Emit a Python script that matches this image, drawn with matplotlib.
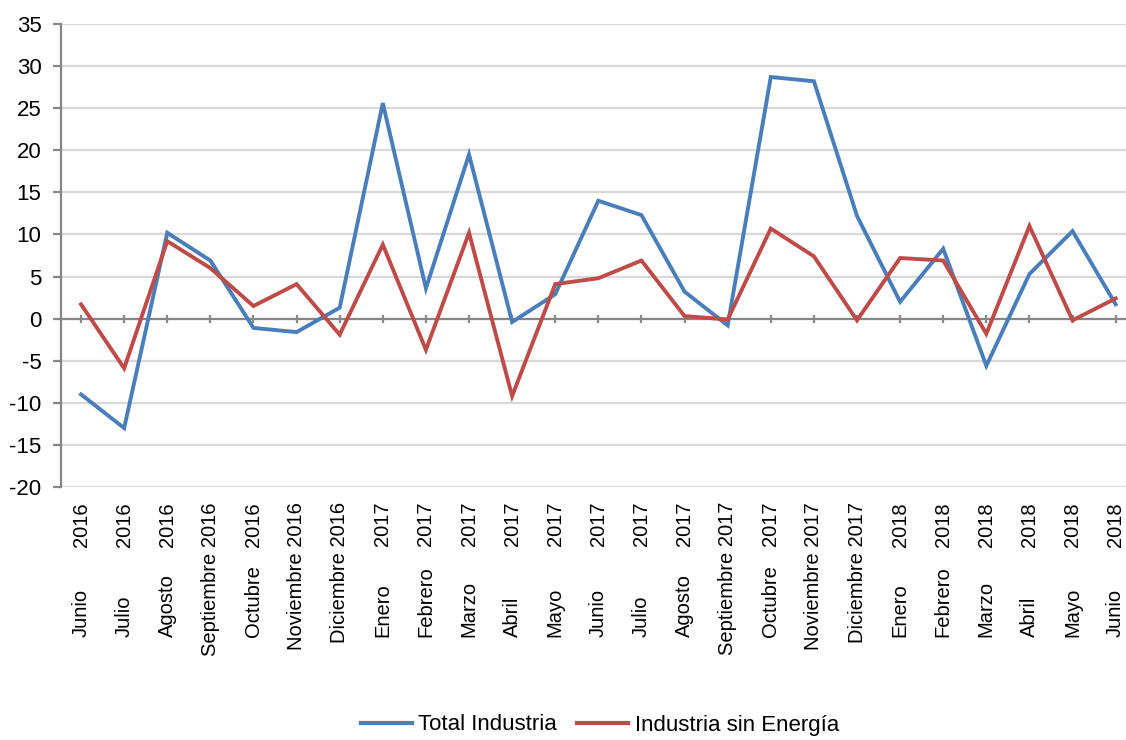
import matplotlib
matplotlib.use("Agg")
import matplotlib.pyplot as plt
from matplotlib.lines import Line2D
import matplotlib.transforms as mtransforms

plt.rcParams['font.family'] = ['Liberation Sans', 'DejaVu Sans']
plt.rcParams['axes.unicode_minus'] = False

months = ["Junio", "Julio", "Agosto", "Septiembre", "Octubre", "Noviembre", "Diciembre",
          "Enero", "Febrero", "Marzo", "Abril", "Mayo", "Junio", "Julio", "Agosto",
          "Septiembre", "Octubre", "Noviembre", "Diciembre", "Enero", "Febrero", "Marzo",
          "Abril", "Mayo", "Junio"]
years = ["2016"] * 7 + ["2017"] * 12 + ["2018"] * 6

total_industria = [-9.0, -13.0, 10.2, 6.9, -1.1, -1.6, 1.3, 25.6, 3.6, 19.5, -0.4, 2.9,
                   14.0, 12.3, 3.2, -0.8, 28.7, 28.2, 12.2, 2.0, 8.3, -5.6, 5.3, 10.4, 1.7]
industria_sin_energia = [1.7, -5.9, 9.2, 6.0, 1.5, 4.1, -1.9, 8.8, -3.7, 10.2, -9.2, 4.1,
                         4.8, 6.9, 0.3, -0.1, 10.7, 7.4, -0.2, 7.2, 6.9, -1.8, 11.0, -0.2, 2.4]

blue = "#4A7EBB"
red = "#BE4B48"
axis_gray = "#868686"
grid_gray = "#D9D9D9"

fig = plt.figure(figsize=(11.26, 7.40), dpi=100)
ax = fig.add_axes([61 / 1126, 1 - 487 / 740, 1 - 61 / 1126, (487 - 24) / 740])

x = list(range(len(months)))
ax.plot(x, total_industria, color=blue, lw=2.8, solid_joinstyle='miter', label="Total Industria", zorder=3)
ax.plot(x, industria_sin_energia, color=red, lw=2.8, solid_joinstyle='miter', label="Industria sin Energía", zorder=3)

ax.set_ylim(-20, 35)
ax.set_yticks(range(-20, 36, 5))
ax.set_xlim(-0.465, 24.24)
ax.set_xticks(x)
ax.set_xticklabels([])

ax.grid(axis='y', color=grid_gray, lw=1.6, zorder=0)
ax.set_axisbelow(True)

for s in ['top', 'right']:
    ax.spines[s].set_visible(False)
ax.spines['left'].set_color(axis_gray)
ax.spines['left'].set_linewidth(1.6)
ax.spines['bottom'].set_position(('data', 0))
ax.spines['bottom'].set_color(axis_gray)
ax.spines['bottom'].set_linewidth(1.6)
ax.spines['bottom'].set_zorder(2)

ax.tick_params(axis='y', direction='out', length=6, width=1.6, color=axis_gray,
               labelsize=16, pad=8, labelcolor='black')
ax.tick_params(axis='x', direction='inout', length=6, width=1.6, color=axis_gray)

# category labels below the plot area
trans = mtransforms.blended_transform_factory(ax.transData, fig.transFigure)
top_y = 1 - 502 / 740
bot_y = 1 - 637 / 740
for i, (m, yv) in enumerate(zip(months, years)):
    if len(m) >= 9:
        ax.text(i, top_y, f"{m} {yv}", rotation=90, ha='center', va='top',
                fontsize=14.5, transform=trans, clip_on=False)
    else:
        ax.text(i, top_y, yv, rotation=90, ha='center', va='top',
                fontsize=14.5, transform=trans, clip_on=False)
        ax.text(i, bot_y, m, rotation=90, ha='center', va='bottom',
                fontsize=14.5, transform=trans, clip_on=False)

handles = [Line2D([], [], color=blue, lw=3), Line2D([], [], color=red, lw=3)]
fig.legend(handles, ["Total Industria", "Industria sin Energía"], loc='center',
           bbox_to_anchor=(600 / 1126, 1 - 725 / 740), ncol=2, frameon=False,
           fontsize=16, handlelength=2.3, handletextpad=0.3, columnspacing=0.9)

fig.savefig("out.png", dpi=100)
